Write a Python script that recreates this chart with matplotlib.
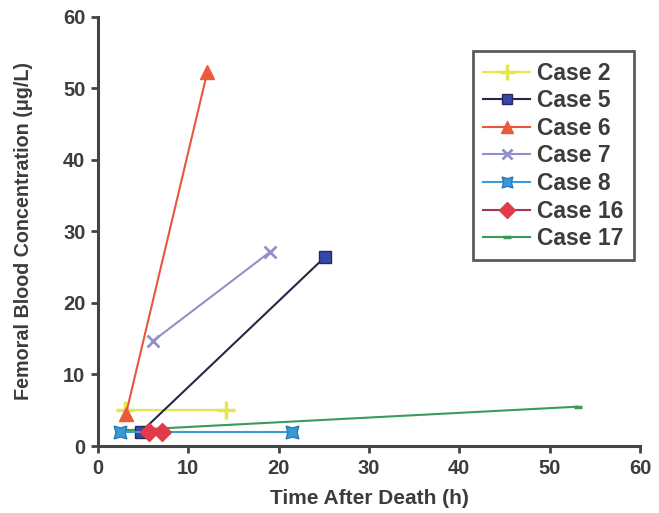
import matplotlib
matplotlib.use("Agg")
import matplotlib.pyplot as plt

plt.rcParams['font.family'] = ['Liberation Sans', 'DejaVu Sans']

# Time after death (h) and femoral blood concentration (ug/L) per case
case_labels = ["Case 2", "Case 5", "Case 6", "Case 7", "Case 8", "Case 16", "Case 17"]
case2_t = [3.0, 14.2];  case2_c = [5.1, 5.1]
case5_t = [4.8, 25.1];  case5_c = [2.0, 26.4]
case6_t = [3.1, 12.1];  case6_c = [4.5, 52.3]
case7_t = [6.1, 19.0];  case7_c = [14.7, 27.1]
case8_t = [2.4, 21.5];  case8_c = [2.0, 2.0]
case16_t = [5.6, 7.1];  case16_c = [1.9, 2.0]
case17_t = [3.0, 53.1]; case17_c = [2.2, 5.5]

x_ticks = [0, 10, 20, 30, 40, 50, 60]
y_ticks = [0, 10, 20, 30, 40, 50, 60]

fig = plt.figure(figsize=(6.59, 5.13), dpi=100)
ax = fig.add_axes([0.1487, 0.1306, 0.8225, 0.8363])

txt = '#3c3c3c'
series = [
    (case17_t, case17_c, dict(color='#3a9a5a', marker='_', ms=6, mew=2.5, lw=1.5)),
    (case2_t, case2_c, dict(color='#e6e650', marker='+', ms=13, mew=2.5, lw=1.6)),
    (case5_t, case5_c, dict(color='#262846', marker='s', ms=9, mfc='#3748a8', mec='#262a60', lw=1.5)),
    (case6_t, case6_c, dict(color='#e8573e', marker='^', ms=10, mfc='#ec5a3c', mec='#ec5a3c', lw=1.5)),
    (case7_t, case7_c, dict(color='#9290c8', marker='x', ms=9, mew=2, lw=1.5)),
    (case8_t, case8_c, dict(color='#3c9ad6', marker=(4, 1, 45), ms=13, mfc='#3a9ad8', mec='#2a7ab8', lw=1.5)),
    (case16_t, case16_c, dict(color='#a03a58', marker='D', ms=9, mfc='#e23a48', mec='#e23a48', lw=1.5)),
]
handles = {}
order_labels = ["Case 17", "Case 2", "Case 5", "Case 6", "Case 7", "Case 8", "Case 16"]
for (t, c, kw), lab in zip(series, order_labels):
    h, = ax.plot(t, c, label=lab, clip_on=False, zorder=3, **kw)
    handles[lab] = h

ax.set_xlim(0, 60)
ax.set_ylim(0, 60)
ax.set_xticks(x_ticks)
ax.set_yticks(y_ticks)
for s in ['top', 'right']:
    ax.spines[s].set_visible(False)
for s in ['left', 'bottom']:
    ax.spines[s].set_linewidth(2.2)
    ax.spines[s].set_color('#444444')
ax.tick_params(direction='out', length=5, width=2, color='#444444',
               labelsize=14.5, labelcolor=txt, pad=4)
for lbl in ax.get_xticklabels() + ax.get_yticklabels():
    lbl.set_fontweight('bold')

ax.set_xlabel('Time After Death (h)', fontsize=15, fontweight='bold', color=txt, labelpad=8)
ax.set_ylabel('Femoral Blood Concentration (\u03bcg/L)', fontsize=14.2, fontweight='bold',
              color=txt, labelpad=22)

leg = ax.legend([handles[l] for l in case_labels], case_labels,
                loc='upper left', bbox_to_anchor=(0.692, 0.92), borderaxespad=0,
                frameon=True, fancybox=False, markerscale=0.85,
                handlelength=2.05, handletextpad=0.3, labelspacing=0.2,
                borderpad=0.45, prop={'weight': 'bold', 'size': 16.5})
leg.get_frame().set_edgecolor('#333333')
leg.get_frame().set_linewidth(2)
for t in leg.get_texts():
    t.set_color(txt)

fig.savefig('out.png', dpi=100)
